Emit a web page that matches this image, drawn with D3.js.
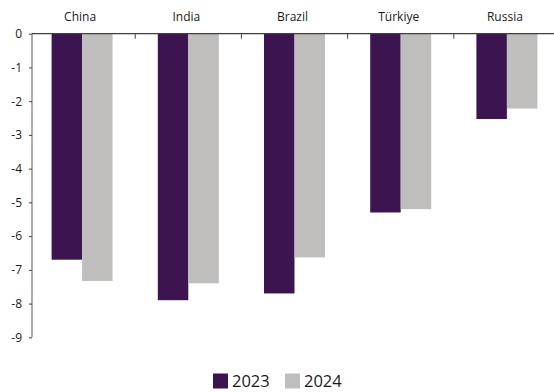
<!DOCTYPE html>
<html><head><meta charset="utf-8">
<script src="https://cdn.jsdelivr.net/npm/d3@7"></script>
<style>body{margin:0;background:#fff;} svg{display:block;font-family:"Open Sans",sans-serif;}</style>
</head><body>
<svg id="c" width="554" height="392"></svg>
<script>
const categories = ["China", "India", "Brazil", "Türkiye", "Russia"];
const series = ["2023", "2024"];
const values2023 = [-6.7, -7.9, -7.7, -5.3, -2.53];
const values2024 = [-7.33, -7.4, -6.63, -5.2, -2.22];
const yTicks = [0, -1, -2, -3, -4, -5, -6, -7, -8, -9];
const colors = ["#3c1450", "#bfbebd"];

const svg = d3.select("#c");
const y = d3.scaleLinear().domain([0, -9]).range([33.7, 337.3]);
const x0 = d3.scaleBand().domain(categories).range([29, 560]).padding(0);
const groupW = 61;
const x1 = d3.scaleBand().domain(series).range([0, groupW]).padding(0);
const seriesVals = [values2023, values2024];

// bars
categories.forEach((c, i) => {
  const gx = x0(c) + (x0.bandwidth() - groupW) / 2;
  series.forEach((s, j) => {
    const v = seriesVals[j][i];
    svg.append("rect")
      .attr("x", gx + x1(s))
      .attr("y", y(0))
      .attr("width", x1.bandwidth())
      .attr("height", y(v) - y(0))
      .attr("fill", colors[j]);
  });
});

// y axis
const yAxis = d3.axisLeft(y).tickValues(yTicks).tickSize(3).tickPadding(7).tickFormat(d => String(d));
const gy = svg.append("g").attr("transform", "translate(32,0)").call(yAxis);
gy.select(".domain").attr("stroke", "#7f7f7f").attr("stroke-width", 1.3).attr("d", `M0,${y(0)}V${y(-9)}`);
gy.selectAll(".tick line").attr("stroke", "#404040");
gy.selectAll(".tick text").attr("fill", "#1a1a1a").style("font-size", "12px").style("font-family", "'Open Sans',sans-serif");

// zero line and category separators
svg.append("line").attr("x1", 32).attr("x2", 554).attr("y1", y(0)).attr("y2", y(0))
  .attr("stroke", "#404040").attr("stroke-width", 1.3);
categories.slice(1).forEach(c => {
  svg.append("line").attr("x1", x0(c)).attr("x2", x0(c)).attr("y1", y(0)).attr("y2", y(0) + 5)
    .attr("stroke", "#404040").attr("stroke-width", 1);
});

// category labels
svg.selectAll(".cat").data(categories).enter().append("text")
  .attr("x", d => x0(d) + x0.bandwidth() / 2 - 2)
  .attr("y", 21)
  .attr("text-anchor", "middle")
  .attr("fill", "#1a1a1a")
  .style("font-size", "12px")
  .text(d => d);

// legend
const legX = [213, 285];
series.forEach((s, j) => {
  svg.append("rect").attr("x", legX[j]).attr("y", 373.5).attr("width", 15).attr("height", 15).attr("fill", colors[j]);
  svg.append("text").attr("x", legX[j] + 19).attr("y", 387).attr("fill", "#1a1a1a")
    .style("font-size", "16.5px").text(s);
});
</script>
</body></html>
